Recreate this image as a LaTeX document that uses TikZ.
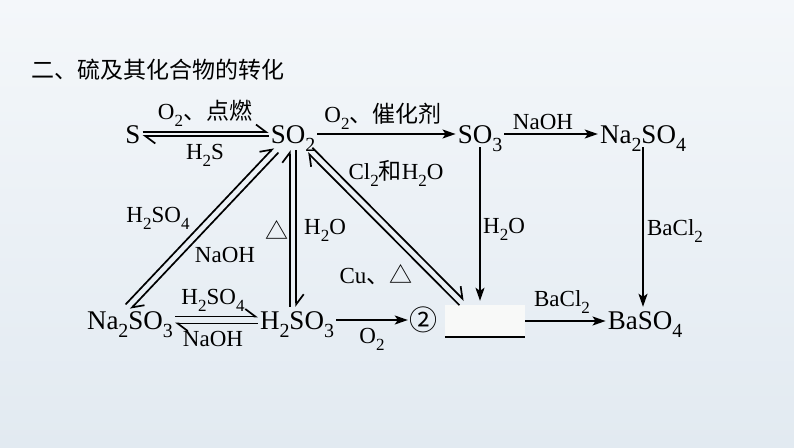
\documentclass[tikz,border=0pt]{standalone}
\usepackage{fontspec}
\usepackage{graphicx}
\setmainfont{Liberation Serif}
\newfontfamily\cjk{Noto Sans CJK SC}
\usetikzlibrary{arrows.meta,calc}
\newcommand\dn[1]{\raisebox{-0.3em}{\scalebox{0.74}{#1}}}
\definecolor{bgtop}{RGB}{244,247,250}
\definecolor{bgbot}{RGB}{226,234,241}
\definecolor{blankfill}{RGB}{248,249,248}
\begin{document}
\begin{tikzpicture}[x=1pt,y=-1pt,
  chem/.style={font=\fontsize{27}{30}\selectfont, inner sep=2pt, text height=20pt, text depth=2pt, anchor=base},
  lab/.style={font=\fontsize{23}{26}\selectfont, inner sep=0pt},
  arr/.style={line width=1.7pt, -{Stealth[length=13pt,width=9pt,inset=3pt]}},
  harp/.style={line width=1.7pt, -{Straight Barb[left,length=10pt,width=15pt,line width=1.7pt]}},
]
\useasboundingbox (0,0) rectangle (794,447);
\shade[top color=bgtop, bottom color=bgbot] (0,0) rectangle (794,447);

\node[anchor=west, font=\cjk\fontsize{23}{26}\selectfont, inner sep=0pt] (title) at (31,70) {二、硫及其化合物的转化};

% species
\node[chem] (s) at (133,143) {S};
\node[chem] (so2) at (293,143) {SO\dn{2}};
\node[chem] (so3) at (480,143) {SO\dn{3}};
\node[chem] (na2so4) at (643,143) {Na\dn{2}SO\dn{4}};
\node[chem] (na2so3) at (130,329) {Na\dn{2}SO\dn{3}};
\node[chem] (h2so3) at (297,329) {H\dn{2}SO\dn{3}};
\node[font=\cjk\fontsize{28}{30}\selectfont, inner sep=1pt] (c2) at (423,320) {②};
\node[fill=blankfill, minimum width=80pt, minimum height=32pt, inner sep=0pt] (blank) at (485,321) {};
\draw[line width=2.4pt] (blank.south west) -- (blank.south east);
\node[chem] (baso4) at (645,329) {BaSO\dn{4}};

% connectors
\draw[harp] ([yshift=2pt]s.east) -- ([yshift=2pt]so2.west);
\draw[harp] ([yshift=-2pt]so2.west) -- ([yshift=-2pt]s.east);
\draw[arr] (so2.east) -- (so3.west);
\draw[arr] (so3.east) -- (na2so4.west);
\draw[arr, shorten >=4pt] (so3.south) -- (so3.south |- blank.north);
\draw[arr] (na2so4.south) -- (na2so4.south |- baso4.north);
\draw[arr] (blank.east) -- (blank.east -| baso4.west);
\draw[arr] (h2so3.east) -- (h2so3.east -| c2.west);
\draw[harp] ([yshift=3.5pt]na2so3.east) -- ([yshift=3.5pt]h2so3.west);
\draw[harp] ([yshift=-3.5pt]h2so3.west) -- ([yshift=-3.5pt]na2so3.east);

\draw[harp, transform canvas={xshift=-3.2pt}] (h2so3.north -| so2.south) -- ([yshift=-3pt]so2.south);
\draw[harp, transform canvas={xshift=3.2pt}] ([yshift=-3pt]so2.south) -- (so2.south |- h2so3.north);

\coordinate (dA) at ([xshift=-2pt]na2so3.north);
\coordinate (dB) at ([xshift=-17pt,yshift=-3pt]so2.south);
\draw[harp, transform canvas={shift={(-2.4pt,2.4pt)}}] (dA) -- (dB);
\draw[harp, transform canvas={shift={(2.4pt,-2.4pt)}}] (dB) -- (dA);

\coordinate (dC) at ([xshift=17pt,yshift=-3pt]so2.south);
\coordinate (dD) at ([xshift=17pt,yshift=2pt]blank.north west);
\draw[harp, transform canvas={shift={(2.4pt,2.4pt)}}] (dC) -- (dD);
\draw[harp, transform canvas={shift={(-2.4pt,-2.4pt)}}] (dD) -- (dC);

% labels
\node[lab] at (205,113) {O\dn{2}{\cjk 、点燃}};
\node[lab] at (205,155) {H\dn{2}S};
\node[lab] at (383,116) {O\dn{2}{\cjk 、催化剂}};
\node[lab] at (543,122) {NaOH};
\node[lab] at (396,173) {Cl\dn{2}{\cjk 和}H\dn{2}O};
\node[lab] at (158,218) {H\dn{2}SO\dn{4}};
\node[lab] at (225,255) {NaOH};
\node[lab] at (277,230) {\cjk △};
\node[lab] at (325,230) {H\dn{2}O};
\node[lab] at (376,275) {Cu{\cjk 、△}};
\node[lab] at (504,229) {H\dn{2}O};
\node[lab] at (675,231) {BaCl\dn{2}};
\node[lab] at (213,300) {H\dn{2}SO\dn{4}};
\node[lab] at (213,339) {NaOH};
\node[lab] at (372,339) {O\dn{2}};
\node[lab] at (562,302) {BaCl\dn{2}};
\end{tikzpicture}
\end{document}
